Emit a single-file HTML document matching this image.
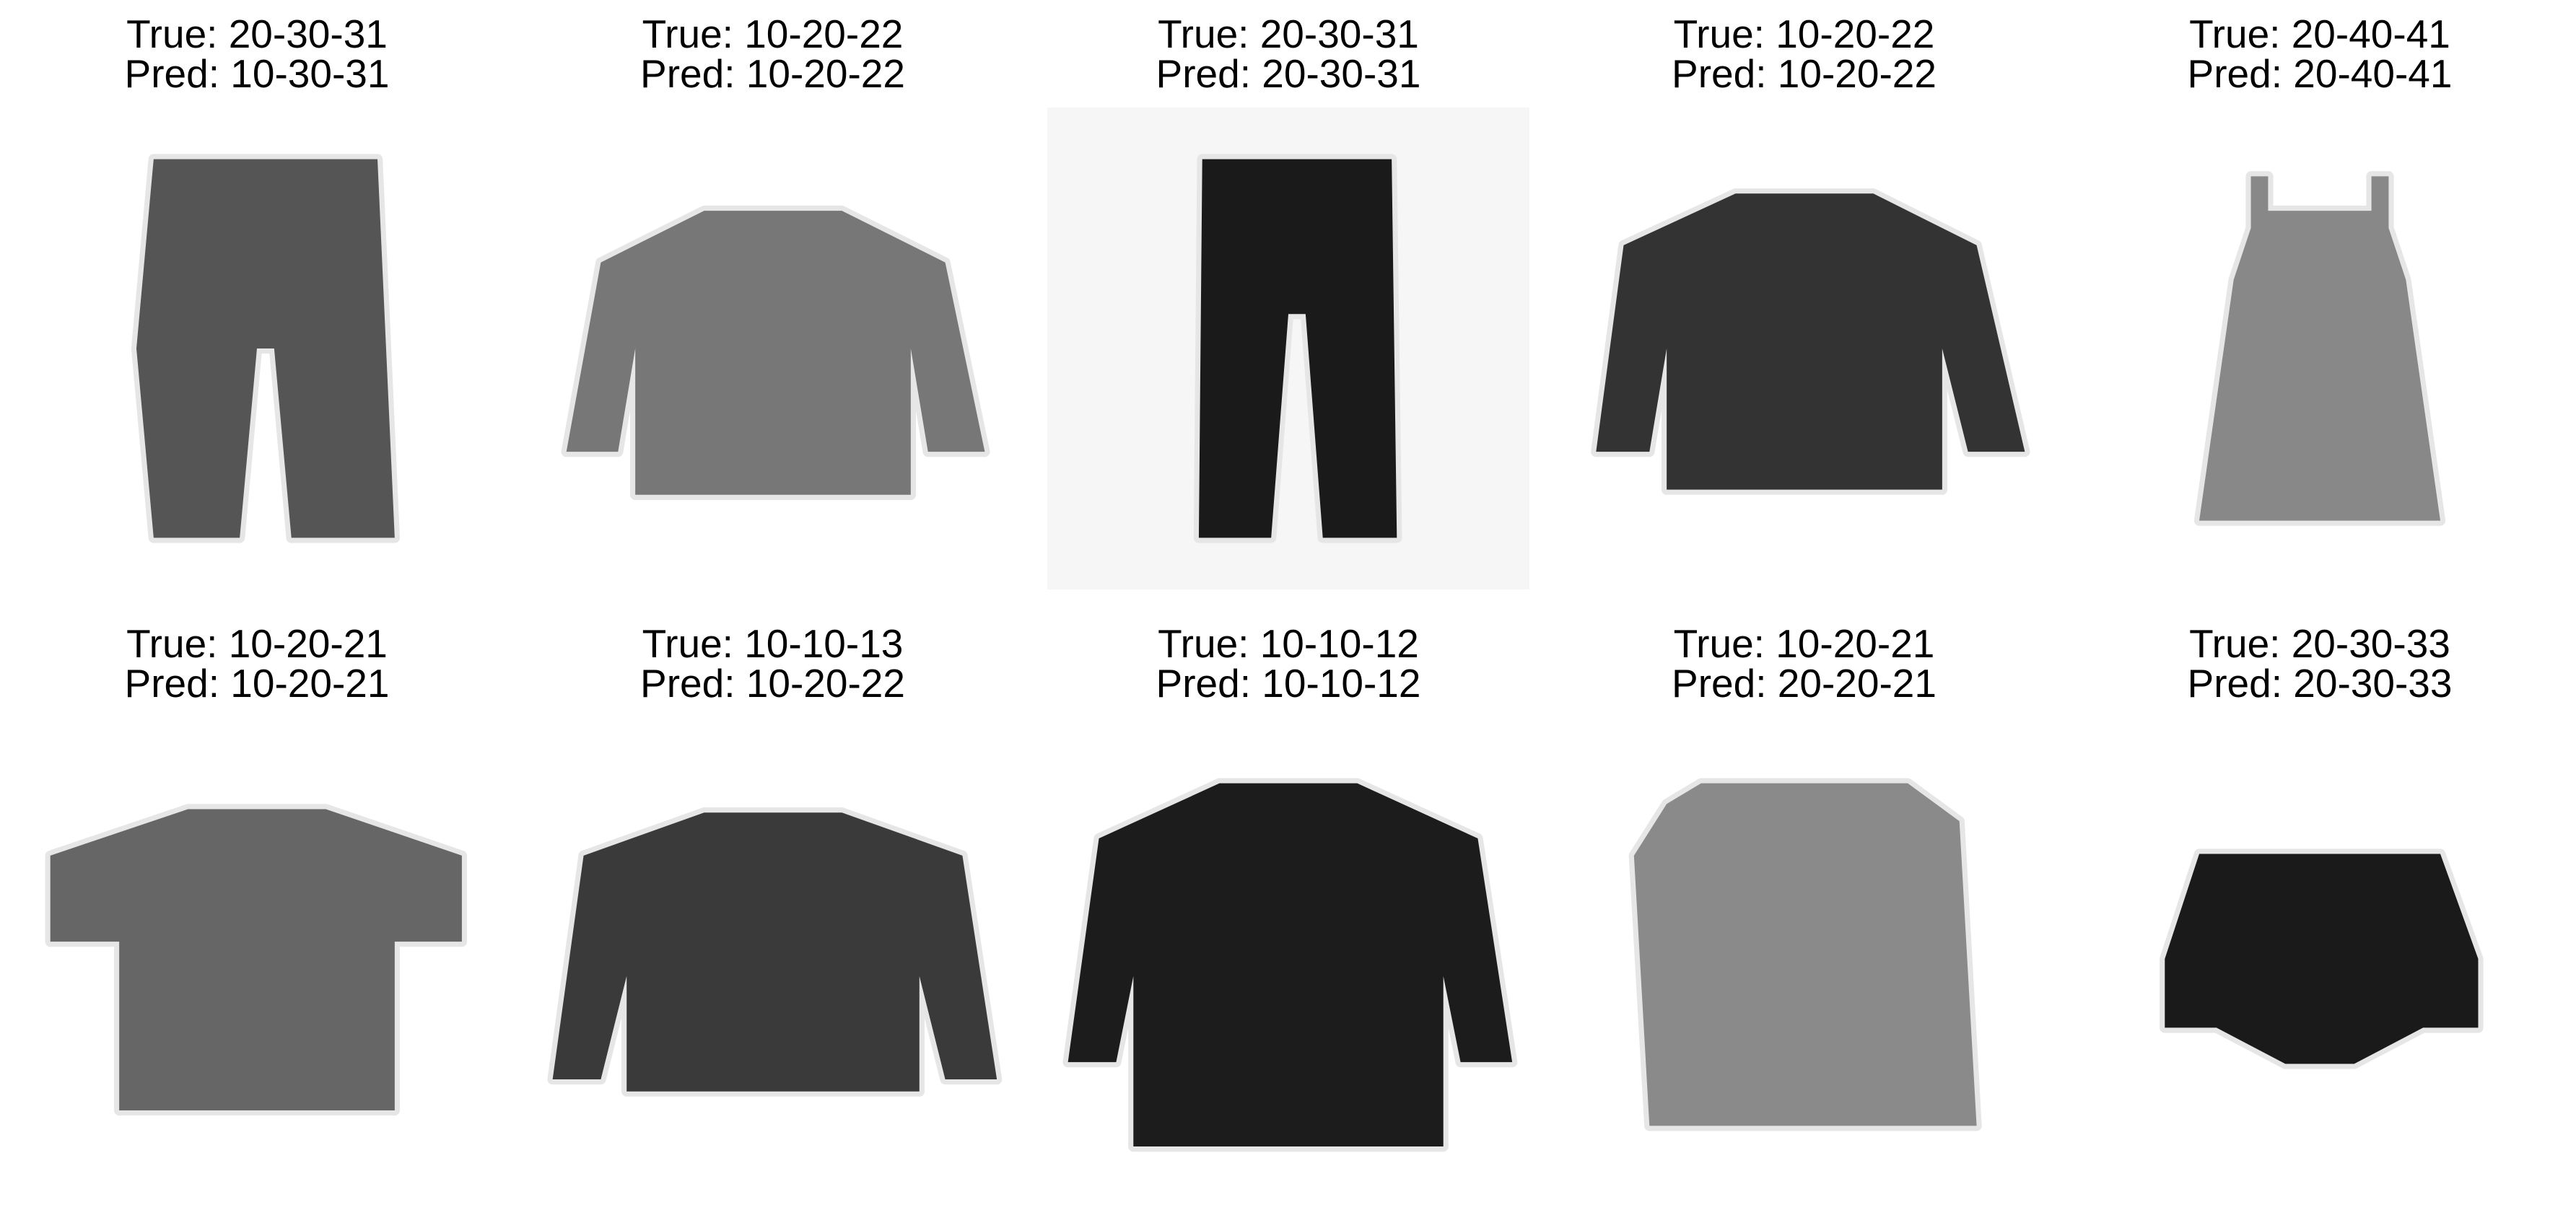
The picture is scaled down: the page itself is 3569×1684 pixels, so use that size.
<!DOCTYPE html>
<html><head><meta charset="utf-8">
<style>
html,body{margin:0;padding:0;background:#fff;}
#wrap{position:relative;width:3569px;height:1684px;overflow:hidden;background:#fff;font-family:"Liberation Sans",sans-serif;}
.title{position:absolute;width:700px;text-align:center;font-size:55px;line-height:55px;color:#000;}
svg.img{position:absolute;}
</style></head>
<body>
<div id="wrap"></div>
<script>
const trueLabels=["20-30-31","10-20-22","20-30-31","10-20-22","20-40-41","10-20-21","10-10-13","10-10-12","10-20-21","20-30-33"];
const predLabels=["10-30-31","10-20-22","20-30-31","10-20-22","20-40-41","10-20-21","10-20-22","10-10-12","20-20-21","20-30-33"];
const bgs=["#fff","#fff","#f6f6f6","#fff","#fff","#fff","#fff","#fff","#fff","#fff"];
const fills=["#555","#777","#1a1a1a","#333","#888","#666","#3a3a3a","#1c1c1c","#8a8a8a","#1a1a1a"];
const shapes=[
 "8,3 21,3 22,25 16,25 15,14 14,14 13,25 8,25 7,14",
 "10,6 18,6 24,9 26.3,20 23,20 22,14 22,22.5 6,22.5 6,14 5,20 2,20 4,9",
 "9,3 20,3 20.3,25 16,25 15,12 14,12 13,25 8.8,25",
 "10,5 18,5 24,8 26.8,20 23.5,20 22,14 22,22.2 6,22.2 6,14 5,20 1.9,20 3.5,8",
 "10,4 11,4 11,6 17,6 17,4 18,4 18,7 19,10 21,24 7,24 9,10 10,7",
 "10,5.3 18,5.3 25.9,8 25.9,13 22,13 22,22.8 6,22.8 6,13 2,13 2,8",
 "10,5.5 18,5.5 25,8 27,21 24,21 22.5,15 22.5,21.7 5.5,21.7 5.5,15 4,21 1.2,21 3,8",
 "10,3.8 18,3.8 25,7 27,20 24,20 23,15 23,24.9 5,24.9 5,15 4,20 1.2,20 3,7",
 "8,3.8 20,3.8 23,6 24,23.7 5,23.7 4.1,8 6,5",
 "7,7.9 21,7.9 23.2,14 23.2,18 20,18 16,20.1 12,20.1 8,18 5,18 5,14"
];
const wrap=document.getElementById('wrap');
const NS="http://www.w3.org/2000/svg";
const colX0=22, colStep=714.5, size=668;
const rowTop=[149,995], titleTop=[20,865];
for(let i=0;i<trueLabels.length;i++){
  const r=Math.floor(i/5), c=i%5;
  const x=colX0+c*colStep;
  const t=document.createElement('div');
  t.className='title';
  
  
  t.style.left=(x+size/2-350)+'px';
  t.style.top=titleTop[r]+'px';
  t.innerHTML='True: '+trueLabels[i]+'<br>Pred: '+predLabels[i];
  wrap.appendChild(t);
  const s=document.createElementNS(NS,'svg');
  s.setAttribute('class','img');
  
  
  s.setAttribute('viewBox','0 0 28 28');
  s.setAttribute('width',size);s.setAttribute('height',size);
  s.style.left=x+'px';s.style.top=rowTop[r]+'px';
  const bg=document.createElementNS(NS,'rect');
  
  
  bg.setAttribute('width',28);bg.setAttribute('height',28);bg.setAttribute('fill',bgs[i]);
  s.appendChild(bg);
  const halo=document.createElementNS(NS,'polygon');
  
  
  halo.setAttribute('points',shapes[i]);halo.setAttribute('fill','none');
  halo.setAttribute('stroke','#e6e6e6');halo.setAttribute('stroke-width','0.6');halo.setAttribute('stroke-linejoin','round');
  s.appendChild(halo);
  const p=document.createElementNS(NS,'polygon');
  
  
  p.setAttribute('points',shapes[i]);p.setAttribute('fill',fills[i]);
  s.appendChild(p);
  wrap.appendChild(s);
}
</script>
</body></html>
